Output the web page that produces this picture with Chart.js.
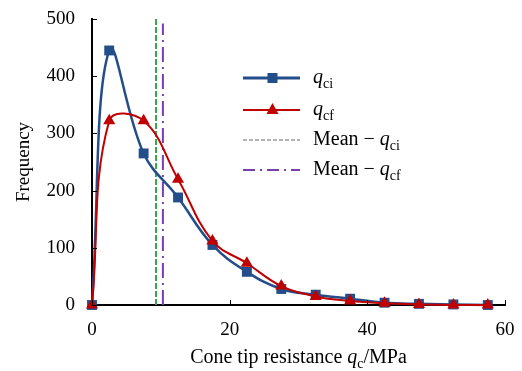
<!DOCTYPE html>
<html>
<head>
<meta charset="utf-8">
<script src="https://cdn.jsdelivr.net/npm/chart.js@4.4.1/dist/chart.umd.min.js"></script>
<style>
  body { margin: 0; background: #fff; }
  #wrap { width: 522px; height: 371px; }
</style>
</head>
<body>
<div id="wrap"><canvas id="chart"></canvas></div>
<script>
// bin centres (MPa) and frequencies
const qcBins = [0, 2.5, 7.5, 12.5, 17.5, 22.5, 27.5, 32.5, 37.5, 42.5, 47.5, 52.5, 57.5];
const qciFreq = [0, 445, 265, 188, 105, 58, 28, 18, 11, 4, 2, 1, 0];
const qcfFreq = [0, 322, 322, 220, 112, 73, 33, 15, 7, 3, 1, 0, 0];
const meanQci = 9.3;
const meanQcf = 10.3;
const meanQcfTop = 492;
const xTicks = [0, 20, 40, 60];
const yTicks = [0, 100, 200, 300, 400, 500];

const BLUE = '#234e8a';
const RED = '#c00000';
const GREEN = '#3aaa48';
const PURPLE = '#7a3fae';
const FONT = "'Liberation Serif', 'Times New Roman', serif";

function toPoints(xs, ys) {
  return xs.map((x, i) => ({ x: x, y: ys[i] }));
}

// draw a text made of pieces (plain / italic / subscript)
function drawRich(ctx, x, y, parts, size) {
  ctx.textBaseline = 'middle';
  ctx.textAlign = 'left';
  parts.forEach(function (p) {
    if (p.sub) {
      ctx.font = Math.round(size * 0.68) + 'px ' + FONT;
      ctx.fillText(p.t, x, y + size * 0.3);
    } else {
      ctx.font = (p.italic ? 'italic ' : '') + size + 'px ' + FONT;
      ctx.fillText(p.t, x, y);
    }
    x += ctx.measureText(p.t).width;
  });
  return x;
}

function richWidth(ctx, parts, size) {
  let w = 0;
  parts.forEach(function (p) {
    ctx.font = (p.sub ? Math.round(size * 0.68) + 'px ' : (p.italic ? 'italic ' : '') + size + 'px ') + FONT;
    w += ctx.measureText(p.t).width;
  });
  return w;
}

const extras = {
  id: 'extras',
  afterDraw: function (chart) {
    const ctx = chart.ctx;
    const xs = chart.scales.x;
    const ys = chart.scales.y;
    const area = chart.chartArea;
    ctx.save();

    // inward tick marks
    ctx.strokeStyle = '#000';
    ctx.lineWidth = 1;
    yTicks.forEach(function (v) {
      const py = Math.round(ys.getPixelForValue(v)) + 0.5;
      ctx.beginPath();
      ctx.moveTo(area.left, py);
      ctx.lineTo(area.left + 5, py);
      ctx.stroke();
    });
    xTicks.forEach(function (v) {
      const px = Math.round(xs.getPixelForValue(v)) + 0.5;
      ctx.beginPath();
      ctx.moveTo(px, area.bottom);
      ctx.lineTo(px, area.bottom - 5);
      ctx.stroke();
    });

    // x axis title
    ctx.fillStyle = '#000';
    const size = 20;
    const xTitle = [{ t: 'Cone tip resistance ' }, { t: 'q', italic: true }, { t: 'c', sub: true }, { t: '/MPa' }];
    const tw = richWidth(ctx, xTitle, size);
    drawRich(ctx, (area.left + area.right) / 2 - tw / 2, 358, xTitle, size);

    // legend
    const lx0 = 243, lx1 = 300, tx = 313;
    const rows = [
      { y: 78, color: BLUE, dash: [], width: 3, marker: 'rect', text: [{ t: 'q', italic: true }, { t: 'ci', sub: true }] },
      { y: 110, color: RED, dash: [], width: 2, marker: 'tri', text: [{ t: 'q', italic: true }, { t: 'cf', sub: true }] },
      { y: 140, color: '#999', dash: [4, 2], width: 1.5, marker: null, text: [{ t: 'Mean − ' }, { t: 'q', italic: true }, { t: 'ci', sub: true }] },
      { y: 170, color: PURPLE, dash: [12, 5, 2, 5], width: 2, marker: null, text: [{ t: 'Mean − ' }, { t: 'q', italic: true }, { t: 'cf', sub: true }] }
    ];
    rows.forEach(function (r) {
      ctx.strokeStyle = r.color;
      ctx.lineWidth = r.width;
      ctx.setLineDash(r.dash);
      ctx.beginPath();
      ctx.moveTo(lx0, r.y);
      ctx.lineTo(lx1, r.y);
      ctx.stroke();
      ctx.setLineDash([]);
      ctx.fillStyle = r.color;
      const mx = (lx0 + lx1) / 2 + 1;
      if (r.marker === 'rect') {
        ctx.fillRect(mx - 5, r.y - 5, 10, 10);
      } else if (r.marker === 'tri') {
        ctx.beginPath();
        ctx.moveTo(mx, r.y - 7);
        ctx.lineTo(mx + 6, r.y + 4);
        ctx.lineTo(mx - 6, r.y + 4);
        ctx.closePath();
        ctx.fill();
      }
      ctx.fillStyle = '#000';
      drawRich(ctx, tx, r.y, r.text, size);
    });
    ctx.restore();
  }
};

new Chart(document.getElementById('chart'), {
  type: 'line',
  data: {
    datasets: [
      {
        label: 'Mean - qci',
        data: [{ x: meanQci, y: 0 }, { x: meanQci, y: 500 }],
        borderColor: GREEN,
        borderWidth: 2,
        borderDash: [6, 2],
        pointRadius: 0,
        tension: 0,
        order: 4
      },
      {
        label: 'Mean - qcf',
        data: [{ x: meanQcf, y: 0 }, { x: meanQcf, y: meanQcfTop }],
        borderColor: PURPLE,
        borderWidth: 2,
        borderDash: [15, 5, 2, 5],
        pointRadius: 0,
        tension: 0,
        order: 3
      },
      {
        label: 'qci',
        data: toPoints(qcBins, qciFreq),
        borderColor: BLUE,
        backgroundColor: BLUE,
        borderWidth: 2.5,
        pointStyle: 'rect',
        pointRadius: 7,
        pointBorderWidth: 0,
        tension: 0.4,
        clip: false,
        order: 2
      },
      {
        label: 'qcf',
        data: toPoints(qcBins, qcfFreq),
        borderColor: RED,
        backgroundColor: RED,
        borderWidth: 2,
        pointStyle: 'triangle',
        pointRadius: 7,
        pointBorderWidth: 0,
        tension: 0.4,
        clip: false,
        order: 1
      }
    ]
  },
  options: {
    responsive: true,
    maintainAspectRatio: false,
    animation: false,
    layout: { padding: { top: 19, right: 17, left: 0, bottom: 0 } },
    plugins: { legend: { display: false }, tooltip: { enabled: false } },
    scales: {
      x: {
        type: 'linear',
        min: 0,
        max: 60,
        afterBuildTicks: function (s) { s.ticks = xTicks.map(v => ({ value: v })); },
        afterFit: function (s) {
          s.height = 66;
          s.paddingLeft = 0;
          s.paddingRight = 0;
        },
        grid: { display: false, drawTicks: false },
        border: { color: '#000', width: 2 },
        ticks: { color: '#000', padding: 14, font: { family: FONT, size: 19 }, maxRotation: 0 }
      },
      y: {
        min: 0,
        max: 500,
        afterBuildTicks: function (s) { s.ticks = yTicks.map(v => ({ value: v })); },
        afterFit: function (s) {
          s.width = 92;
          s.paddingTop = 0;
          s.paddingBottom = 0;
        },
        grid: { display: false, drawTicks: false },
        border: { color: '#000', width: 2 },
        ticks: { color: '#000', padding: 17, font: { family: FONT, size: 19 } },
        title: { display: true, text: 'Frequency', color: '#000', font: { family: FONT, size: 19 }, padding: { top: 13, bottom: 0 } }
      }
    }
  },
  plugins: [extras]
});
</script>
</body>
</html>
